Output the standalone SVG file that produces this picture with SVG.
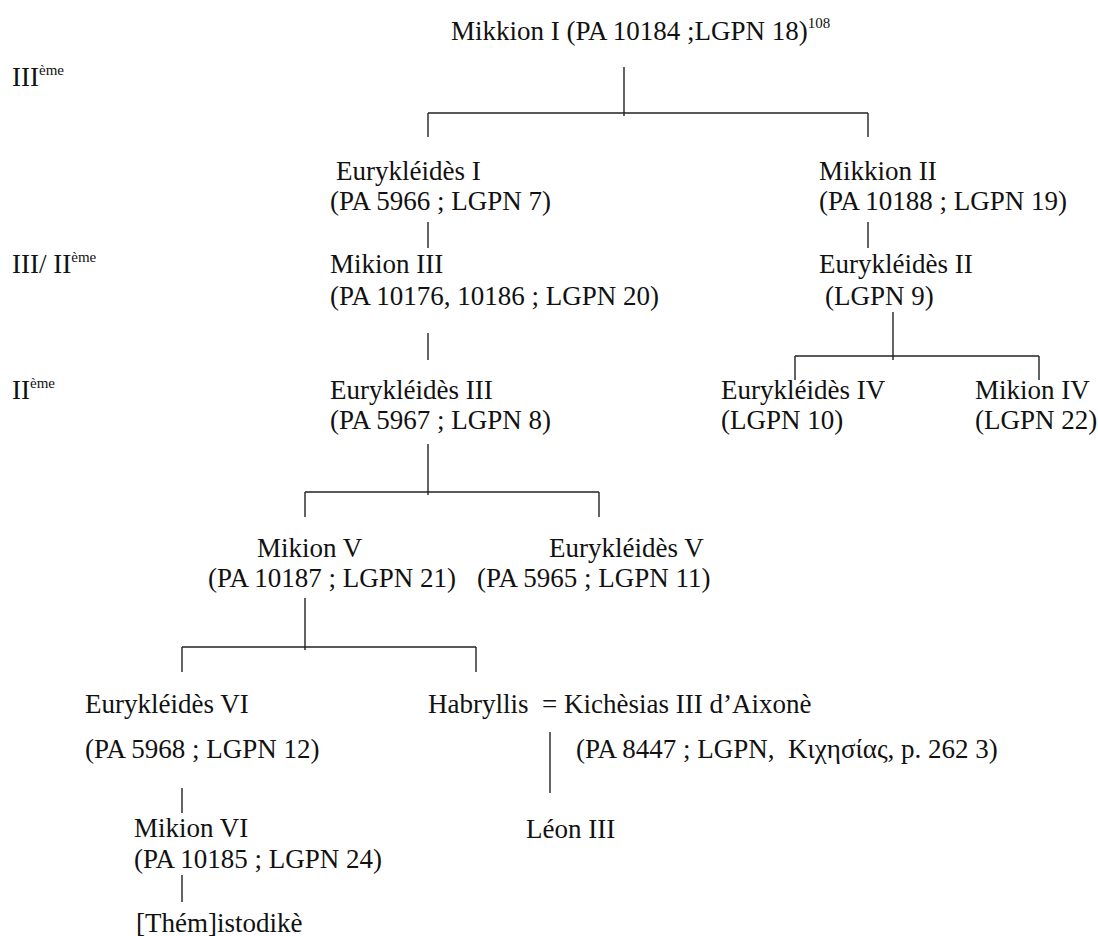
<svg xmlns="http://www.w3.org/2000/svg" width="1098" height="936" viewBox="0 0 1098 936">
<style>
.t{font-family:'Liberation Serif',serif;font-size:27px;fill:#111}
.sup{font-size:15px}
.c line{stroke:#222;stroke-width:1.4;fill:none}
</style>
<rect width="1098" height="936" fill="#fff"/>
<g class="t" font-family="Liberation Serif, serif">
<g id="periods">
<text x="12" y="86">III<tspan class="sup" dy="-11">ème</tspan></text>
<text x="12" y="273">III/ II<tspan class="sup" dy="-11">ème</tspan></text>
<text x="12" y="399">II<tspan class="sup" dy="-11">ème</tspan></text>
</g>
<g id="mikkion1"><text x="451" y="40">Mikkion I (PA 10184 ;LGPN 18)<tspan class="sup" dy="-12">108</tspan></text></g>
<g id="eurykleides1"><text x="336" y="180">Eurykléidès I</text><text x="330" y="210">(PA 5966 ; LGPN 7)</text></g>
<g id="mikkion2"><text x="819" y="180">Mikkion II</text><text x="819" y="210">(PA 10188 ; LGPN 19)</text></g>
<g id="mikion3"><text x="330" y="273">Mikion III</text><text x="330" y="305">(PA 10176, 10186 ; LGPN 20)</text></g>
<g id="eurykleides2"><text x="819" y="273">Eurykléidès II</text><text x="825" y="305">(LGPN 9)</text></g>
<g id="eurykleides3"><text x="330" y="399">Eurykléidès III</text><text x="330" y="429">(PA 5967 ; LGPN 8)</text></g>
<g id="eurykleides4"><text x="721" y="399">Eurykléidès IV</text><text x="721" y="429">(LGPN 10)</text></g>
<g id="mikion4"><text x="975" y="399">Mikion IV</text><text x="975" y="429">(LGPN 22)</text></g>
<g id="mikion5"><text x="257" y="557">Mikion V</text><text x="208" y="587">(PA 10187 ; LGPN 21)</text></g>
<g id="eurykleides5"><text x="549" y="557">Eurykléidès V</text><text x="477" y="587">(PA 5965 ; LGPN 11)</text></g>
<g id="eurykleides6"><text x="85" y="713">Eurykléidès VI</text><text x="85" y="758">(PA 5968 ; LGPN 12)</text></g>
<g id="habryllis"><text x="428" y="713" xml:space="preserve">Habryllis  = Kichèsias III d’Aixonè</text><text x="576" y="758" xml:space="preserve">(PA 8447 ; LGPN,  Κιχησίας, p. 262 3)</text></g>
<g id="mikion6"><text x="134" y="837">Mikion VI</text><text x="134" y="868">(PA 10185 ; LGPN 24)</text></g>
<g id="themistodike"><text x="136" y="932">[Thém]istodikè</text></g>
<g id="leon3"><text x="526" y="838">Léon III</text></g>
</g>
<g class="c" id="connectors">
<line x1="624" y1="67" x2="624" y2="116"/>
<line x1="428" y1="113" x2="868" y2="113"/>
<line x1="428" y1="113" x2="428" y2="137"/>
<line x1="868" y1="113" x2="868" y2="137"/>
<line x1="428" y1="222" x2="428" y2="248"/>
<line x1="868" y1="222" x2="868" y2="248"/>
<line x1="428" y1="333" x2="428" y2="360"/>
<line x1="893" y1="312" x2="893" y2="360"/>
<line x1="795" y1="356" x2="1039" y2="356"/>
<line x1="795" y1="356" x2="795" y2="380"/>
<line x1="1039" y1="356" x2="1039" y2="380"/>
<line x1="428" y1="444" x2="428" y2="495"/>
<line x1="305" y1="492" x2="599" y2="492"/>
<line x1="305" y1="492" x2="305" y2="517"/>
<line x1="599" y1="492" x2="599" y2="517"/>
<line x1="305" y1="598" x2="305" y2="650"/>
<line x1="182" y1="647" x2="476" y2="647"/>
<line x1="182" y1="647" x2="182" y2="672"/>
<line x1="476" y1="647" x2="476" y2="672"/>
<line x1="182" y1="788" x2="182" y2="813"/>
<line x1="182" y1="875" x2="182" y2="902"/>
<line x1="550" y1="732" x2="550" y2="793"/>
</g>
</svg>
